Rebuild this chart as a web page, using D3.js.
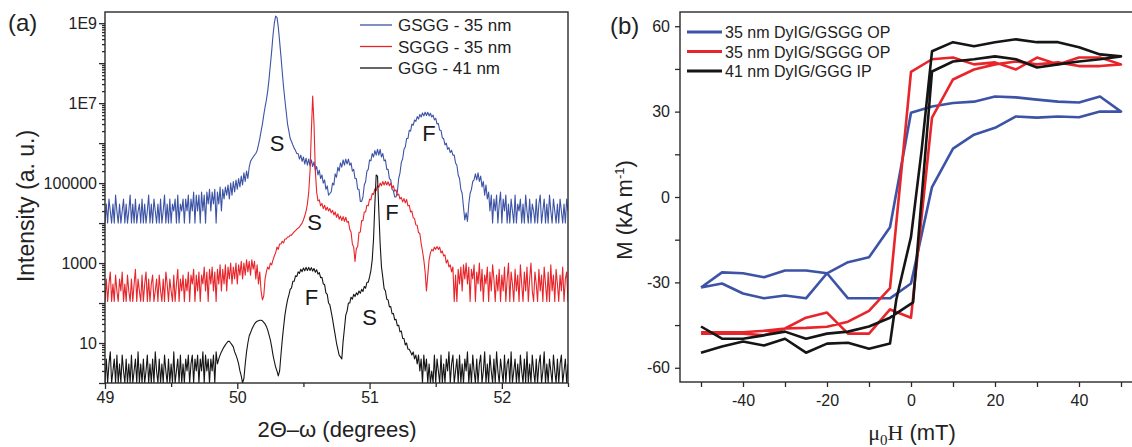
<!DOCTYPE html>
<html>
<head>
<meta charset="utf-8">
<script src="https://cdn.jsdelivr.net/npm/d3@7"></script>
<style>
  body { margin: 0; background: #fff; }
  svg { display: block; font-family: Arial, "Liberation Sans", sans-serif; }
</style>
</head>
<body>
<script>
// ---- (a) XRD 2theta-omega scans, 49.00 .. 52.50 deg, one value per 0.01 deg ----
const scanStart = 49, scanStep = 0.01;

const gsgg = [
  1e4,3e4,1e4,4e4,2e4,1e4,3e4,1e4,5e4,2e4,
  1e4,3e4,1e4,2e4,4e4,1e4,3e4,1e4,2e4,5e4,
  1e4,3e4,1e4,4e4,1e4,2e4,3e4,1e4,4e4,1e4,
  3e4,1e4,2e4,5e4,1e4,3e4,1e4,4e4,2e4,1e4,
  3e4,1e4,4e4,1e4,2e4,5e4,1e4,3e4,1e4,4e4,
  1e4,3e4,2e4,4e4,1e4,5e4,1e4,3e4,2e4,4e4,
  1e4,4e4,2e4,5e4,1e4,4e4,2e4,6e4,1e4,5e4,
  2e4,5e4,1e4,6e4,2e4,5e4,1e4,6e4,3e4,7e4,
  2e4,6e4,3e4,7e4,1e4,6e4,3e4,8e4,2e4,7e4,
  4e4,8e4,5e4,9e4,4e4,1e5,5e4,1.1e5,6e4,1.2e5,
  7e4,1.3e5,8e4,1.5e5,9e4,1.8e5,1.1e5,2e5,1.3e5,2.5e5,
  3.5e5,4e5,4.5e5,5e5,5.5e5,6.5e5,9e5,1.3e6,2e6,3e6,
  5e6,8e6,1.2e7,2e7,4e7,9e7,2e8,5e8,1e9,1.5e9,
  1.4e9,8e8,3.5e8,1.5e8,6e7,2.5e7,1.2e7,6e6,3e6,2e6,
  1.3e6,1.1e6,9e5,7.5e5,6.5e5,5.5e5,5.5e5,4e5,5e5,3.5e5,
  4.5e5,3e5,4.2e5,2.8e5,4e5,2.7e5,3.8e5,2.6e5,3.4e5,2.1e5,
  2.6e5,1.6e5,2.1e5,1.3e5,1.6e5,1e5,1.2e5,7e4,8.5e4,5e4,
  5.5e4,6e4,1e5,9e4,1.7e5,1.4e5,2.5e5,2e5,3.2e5,2.5e5,
  3.8e5,2.8e5,4e5,3e5,4e5,2.8e5,3.2e5,2e5,2.2e5,1.3e5,
  1.3e5,7e4,7e4,3.5e4,3.5e4,4.5e4,9e4,1.1e5,2e5,2.2e5,
  3.8e5,3.6e5,5.5e5,4.5e5,6.5e5,5e5,7e5,5e5,7e5,4.5e5,
  5.5e5,3.6e5,3.8e5,2.2e5,2.2e5,1.3e5,1.2e5,7e4,6.5e4,4.5e4,
  4.5e4,6e4,1.3e5,1.8e5,3.3e5,4e5,7e5,8e5,1.3e6,1.3e6,
  2.1e6,2e6,3e6,2.8e6,3.8e6,3.5e6,4.6e6,4e6,5.2e6,4.5e6,
  5.7e6,4.8e6,5.9e6,4.9e6,5.9e6,4.8e6,5.6e6,4.5e6,5e6,3.8e6,
  4.2e6,3e6,3.1e6,2.1e6,2.1e6,1.35e6,1.3e6,9e5,1e6,7e5,
  7.7e5,5.8e5,6.6e5,5e5,5e5,3.2e5,2.8e5,1.6e5,1.3e5,7e4,
  5.5e4,2.5e4,1.2e4,1.8e4,1.1e4,3e4,5.5e4,7e4,1.1e5,1.2e5,
  1.7e5,1.2e5,1.8e5,1.1e5,1.5e5,8e4,1.1e5,5e4,9e4,4e4,
  6e4,2e4,5e4,1e4,4e4,2e4,5e4,1e4,3e4,6e4,
  1e4,4e4,2e4,5e4,1e4,3e4,1e4,4e4,2e4,1e4,
  5e4,1e4,3e4,2e4,4e4,1e4,3e4,1e4,5e4,2e4,
  1e4,4e4,1e4,3e4,2e4,1e4,4e4,1e4,3e4,5e4,
  1e4,2e4,4e4,1e4,3e4,1e4,5e4,2e4,1e4,4e4,
  2e4,1e4,3e4,1e4,4e4,2e4,1e4,3e4,1e4,4e4,
  2e4
];

const sggg = [
  110,400,110,300,600,110,300,110,500,200,
  110,400,200,600,110,300,110,500,200,110,
  400,110,300,700,110,400,200,110,500,110,
  300,600,110,400,110,300,500,110,200,400,
  110,500,200,110,400,110,600,300,110,400,
  200,110,500,110,300,700,110,400,200,500,
  110,400,200,600,110,500,300,700,110,500,
  200,600,110,500,300,800,200,600,110,700,
  300,800,200,600,110,700,300,900,200,700,
  300,900,200,800,400,1000,300,800,400,1000,
  300,900,500,1100,400,1000,500,1200,600,1100,
  500,1200,700,1100,400,900,300,600,200,120,
  150,400,600,800,700,1000,900,1200,1500,1800,
  2500,2200,3000,3000,3500,3200,4000,4000,4500,4500,
  5000,5000,5500,6000,6500,7000,7500,8000,9000,1e4,
  1.2e4,1.5e4,2e4,3e4,6e4,2e5,2e6,1.5e7,3e6,2e5,
  6e4,3.6e4,3.8e4,2.7e4,3.1e4,2.3e4,2.8e4,2.1e4,2.5e4,2e4,
  2.3e4,1.8e4,2.1e4,1.6e4,1.9e4,1.4e4,1.7e4,1.25e4,1.5e4,1.15e4,
  1.45e4,1.1e4,1.4e4,1.05e4,1.1e4,7000,6000,3000,2500,1100,
  2300,2600,5800,6000,1.15e4,1.15e4,1.9e4,1.9e4,2.8e4,2.7e4,
  4e4,3.8e4,5.5e4,5.2e4,7.2e4,6.5e4,8.8e4,7.8e4,1e5,8.6e4,
  1.1e5,9e4,1.1e5,9e4,1.08e5,8.6e4,1e5,7.6e4,8.6e4,6.3e4,
  6.8e4,5e4,5.3e4,4e4,4.4e4,3.4e4,4.1e4,3.2e4,3.9e4,2.7e4,
  2.8e4,1.9e4,2e4,1.35e4,1.3e4,9000,8800,5800,5500,3100,
  2000,1200,600,200,500,1200,1800,2200,2000,2500,
  2200,2600,2200,2500,1800,2000,1500,1600,1000,1200,
  800,900,600,800,110,500,110,700,300,800,
  200,900,400,1000,300,800,110,700,400,900,
  110,600,300,1000,200,700,110,500,300,800,
  110,600,200,900,400,110,500,200,700,110,
  500,200,800,110,400,1000,110,600,300,110,
  700,200,500,110,900,300,110,600,200,800,
  110,400,1000,200,110,600,300,110,700,200,
  500,110,800,300,110,600,110,900,200,500,
  110,700,300,110,500,200,800,110,400,600,
  110
];

const ggg = [
  1,4,1,3,6,1,2,4,1,5,
  1,3,1,5,2,1,4,1,3,1,
  5,1,2,4,1,6,1,3,1,4,
  1,2,5,1,3,1,4,1,6,2,
  1,4,1,3,1,5,2,1,4,1,
  3,1,6,1,2,4,1,5,1,3,
  1,4,2,5,1,3,5,1,4,2,
  5,1,4,2,6,1,5,2,4,1,
  4,2,5,1,6,3,4,5,6,7,
  8,9,10,11,11,10,9,8,6,5,
  4,3,2,1.5,1,1.3,3,6,10,15,
  18,22,26,30,33,35,36,37,37,36,
  33,30,26,21,16,12,8,5,3.5,2.5,
  2,1.5,2,5,12,25,50,80,120,160,
  220,240,350,350,480,460,600,550,700,610,
  750,640,780,650,780,650,770,630,730,590,
  680,530,580,430,440,300,290,180,165,100,
  90,60,40,25,16,10,7,5,4.5,4,
  11,23,50,63,100,100,140,125,165,145,
  180,160,200,175,220,195,260,235,330,330,
  450,650,1200,4000,3e4,1.6e5,1.5e5,2e4,3000,800,
  440,230,200,125,120,80,82,54,55,38,
  39,27,28,19,20,13,13,9,10,7,
  7,6,5,6,4,5,3,5,2,4,
  1,5,2,4,1,3,1,2,1,5,
  1,4,2,1,5,1,3,1,4,2,
  6,1,3,5,1,2,4,1,5,1,
  3,1,4,2,6,1,3,1,5,2,
  1,4,1,3,5,1,2,6,1,3,
  1,5,2,1,4,1,6,2,1,4,
  2,1,5,1,3,4,1,6,1,2,
  4,1,3,1,5,2,1,4,1,6,
  1,3,1,5,2,1,4,1,3,5,
  1,2,6,1,3,1,4,2,1,5,
  2,1,4,1,3,5,1,2,4,1,
  3
];

const xrdNames = ["GSGG - 35 nm", "SGGG - 35 nm", "GGG - 41 nm"];
const twoThetaTicks = [49, 50, 51, 52];
const twoThetaMinor = [49.5, 50.5, 51.5, 52.5];
const intensityTicks = [10, 1e3, 1e5, 1e7, 1e9];
const intensityLabels = ["10", "1000", "100000", "1E7", "1E9"];

// peak labels: substrate (S) and film (F), placed in data coordinates
const peakNotes = [
  { t: "S", x: 50.30, y: 6.3e5 },
  { t: "F", x: 51.45, y: 1.1e6 },
  { t: "S", x: 50.585, y: 6.7e3 },
  { t: "F", x: 51.17, y: 1.2e4 },
  { t: "F", x: 50.56, y: 89 },
  { t: "S", x: 51.0, y: 28 }
];

// ---- (b) hysteresis loops, field (mT) and magnetisation (kA/m) ----
const gsggH = [-50,-45,-40,-35,-30,-25,-20,-15,-10,-5,0,5,10,15,20,25,30,35,40,45,50,
               45,40,35,30,25,20,15,10,5,0,-5,-10,-15,-20,-25,-30,-35,-40,-45,-50];
const gsggM = [-31.8,-30.4,-33.9,-35.6,-34.6,-35.6,-26.8,-22.9,-21.2,-10.6,29.6,31.8,33,33.5,35.3,35,34.2,33.5,33.2,35.3,30,
               30,28,28.3,27.9,28.3,24.3,21.9,17,3.5,-30.4,-35.6,-35.6,-35.6,-26.8,-25.8,-25.8,-28.2,-26.8,-26.5,-31.8];
const sgggH = [-50,-45,-40,-35,-30,-25,-20,-15,-10,-5,0,5,10,15,20,25,30,35,40,45,50,
               45,40,35,30,25,20,15,10,5,0,-5,-10,-15,-20,-25,-30,-35,-40,-45,-50];
const sgggM = [-47.5,-47.5,-47.5,-47,-46.2,-46,-45.6,-43.8,-40,-32,44,48.4,49,46.6,47.3,44.8,49,46.6,49,49,46.6,
               46,46,47.3,46.6,47.6,46.6,44.8,41.3,27.9,-42.4,-39.5,-48,-48,-40.6,-42.4,-46.2,-48.6,-48,-48,-48];
const gggH = [-50,-45,-40,-35,-30,-25,-20,-15,-10,-5,0.5,5,10,15,20,25,30,35,40,45,50,
              45,40,35,30,25,20,15,10,5,2.5,0,-3.5,-5,-10,-15,-20,-25,-30,-35,-40,-45,-50];
const gggM = [-45.5,-49.8,-49.8,-48.6,-47.3,-49.8,-48,-47.3,-45.5,-42.4,-37,44.1,47.6,48.4,49.4,48.4,45.5,46.6,47.6,48.4,49.4,
              50.1,52.6,54.4,54.4,55.4,54.4,53,54.4,51.2,16,-14,-36,-51.5,-53.3,-51.2,-51.5,-54.7,-49.8,-52.2,-50.8,-52.5,-54.7];

const loopNames = ["35 nm DyIG/GSGG OP", "35 nm DyIG/SGGG OP", "41 nm DyIG/GGG IP"];
const fieldTicks = [-40, -20, 0, 20, 40];
const fieldMinor = [-50, -30, -10, 10, 30, 50];
const momentTicks = [-60, -30, 0, 30, 60];
const momentMinor = [-45, -15, 15, 45];

const colors = ["#3c53a6", "#e8252a", "#151515"];
const axisColor = "#2a2a2a";

const svg = d3.select("body").append("svg")
    .attr("width", 1132)
    .attr("height", 447);

// ================= panel (a) =================
const aBox = { left: 105, right: 568, top: 12, bottom: 383 };
const xA = d3.scaleLinear().domain([49, 52.5]).range([aBox.left, aBox.right]);
const yA = d3.scaleLog().domain([1, Math.pow(10, 9.28)]).range([aBox.bottom, aBox.top]);

svg.append("clipPath").attr("id", "clipA")
  .append("rect")
    .attr("x", aBox.left).attr("y", aBox.top)
    .attr("width", aBox.right - aBox.left).attr("height", aBox.bottom - aBox.top);

const scanLine = d3.line()
    .x((d, i) => xA(scanStart + i * scanStep))
    .y(d => yA(d));

const scans = svg.append("g").attr("clip-path", "url(#clipA)");
[gsgg, sggg, ggg].forEach((s, k) => {
  scans.append("path")
      .datum(s)
      .attr("d", scanLine)
      .attr("fill", "none")
      .attr("stroke", colors[k])
      .attr("stroke-width", 1.1)
      .attr("stroke-linejoin", "round");
});

// x axis (a)
svg.append("g")
    .attr("transform", `translate(0,${aBox.bottom})`)
    .call(d3.axisBottom(xA).tickValues(twoThetaTicks).tickFormat(d => String(d)).tickSize(6).tickPadding(3));
svg.append("g")
    .attr("transform", `translate(0,${aBox.bottom})`)
    .call(d3.axisBottom(xA).tickValues(twoThetaMinor).tickFormat("").tickSize(4));

// y axis (a): every decade ticked, every other labelled, log minors
const decades = d3.range(0, 10).map(e => Math.pow(10, e));
const minorA = [];
decades.forEach(d => { for (let m = 2; m <= 9; m++) if (d * m < yA.domain()[1]) minorA.push(d * m); });
svg.append("g")
    .attr("transform", `translate(${aBox.left},0)`)
    .call(d3.axisLeft(yA).tickValues(decades)
      .tickFormat(d => { const k = intensityTicks.indexOf(d); return k < 0 ? "" : intensityLabels[k]; })
      .tickSize(6).tickPadding(2));
svg.append("g")
    .attr("transform", `translate(${aBox.left},0)`)
    .call(d3.axisLeft(yA).tickValues(minorA).tickFormat("").tickSize(3));

svg.append("rect")
    .attr("x", aBox.left).attr("y", aBox.top)
    .attr("width", aBox.right - aBox.left).attr("height", aBox.bottom - aBox.top)
    .attr("fill", "none").attr("stroke", axisColor).attr("stroke-width", 1.4);

// legend (a)
xrdNames.forEach((n, k) => {
  const ly = 25 + k * 21.5;
  svg.append("line").attr("x1", 360).attr("x2", 392).attr("y1", ly).attr("y2", ly)
      .attr("stroke", colors[k]).attr("stroke-width", 1.3);
  svg.append("text").attr("x", 398).attr("y", ly + 6).text(n)
      .attr("font-size", 17).attr("fill", "#222");
});

peakNotes.forEach(p => {
  svg.append("text")
      .attr("x", xA(p.x)).attr("y", yA(p.y))
      .attr("text-anchor", "middle")
      .attr("font-size", 22).attr("fill", "#1a1a1a")
      .text(p.t);
});

svg.append("text")
    .attr("transform", "translate(34,206) rotate(-90)")
    .attr("text-anchor", "middle")
    .attr("font-size", 23).attr("fill", "#222")
    .text("Intensity (a. u.)");

svg.append("text")
    .attr("x", 337).attr("y", 437)
    .attr("text-anchor", "middle")
    .attr("font-size", 22).attr("fill", "#222")
    .text("2\u0398\u2013\u03c9 (degrees)");

svg.append("text").attr("x", 8).attr("y", 31).attr("font-size", 24).attr("fill", "#222").text("(a)");

// ================= panel (b) =================
const bBox = { left: 680, right: 1142, top: 12, bottom: 382 };
const xB = d3.scaleLinear().domain([-55, 55]).range([bBox.left, bBox.right]);
const yB = d3.scaleLinear().domain([-65, 65]).range([bBox.bottom, bBox.top]);

const loopLine = d3.line().x(d => xB(d[0])).y(d => yB(d[1]));
[[gsggH, gsggM], [sgggH, sgggM], [gggH, gggM]].forEach(([h, m], k) => {
  svg.append("path")
      .datum(h.map((v, i) => [v, m[i]]))
      .attr("d", loopLine)
      .attr("fill", "none")
      .attr("stroke", colors[k])
      .attr("stroke-width", 2.6)
      .attr("stroke-linejoin", "round");
});

svg.append("g")
    .attr("transform", `translate(0,${bBox.bottom})`)
    .call(d3.axisBottom(xB).tickValues(fieldTicks).tickFormat(d => String(d)).tickSize(5).tickPadding(8));
svg.append("g")
    .attr("transform", `translate(0,${bBox.bottom})`)
    .call(d3.axisBottom(xB).tickValues(fieldMinor).tickFormat("").tickSize(5));
svg.append("g")
    .attr("transform", `translate(${bBox.left},0)`)
    .call(d3.axisLeft(yB).tickValues(momentTicks).tickFormat(d => String(d)).tickSize(5).tickPadding(5));
svg.append("g")
    .attr("transform", `translate(${bBox.left},0)`)
    .call(d3.axisLeft(yB).tickValues(momentMinor).tickFormat("").tickSize(5));

svg.append("rect")
    .attr("x", bBox.left).attr("y", bBox.top)
    .attr("width", bBox.right - bBox.left).attr("height", bBox.bottom - bBox.top)
    .attr("fill", "none").attr("stroke", axisColor).attr("stroke-width", 1.4);

loopNames.forEach((n, k) => {
  const ly = 32 + k * 19.5;
  svg.append("line").attr("x1", 687).attr("x2", 722).attr("y1", ly).attr("y2", ly)
      .attr("stroke", colors[k]).attr("stroke-width", 3);
  svg.append("text").attr("x", 725).attr("y", ly + 6).text(n)
      .attr("font-size", 16).attr("fill", "#222");
});

const yTitleB = svg.append("text")
    .attr("transform", "translate(632,210) rotate(-90)")
    .attr("text-anchor", "middle")
    .attr("font-size", 22).attr("fill", "#222");
yTitleB.append("tspan").text("M (kA m");
yTitleB.append("tspan").attr("font-size", 13).attr("dy", -8).text("-1");
yTitleB.append("tspan").attr("dy", 8).text(")");

const xTitleB = svg.append("text")
    .attr("x", 912).attr("y", 440)
    .attr("text-anchor", "middle")
    .attr("font-size", 22).attr("fill", "#222");
xTitleB.append("tspan").attr("font-family", "'Liberation Serif', 'DejaVu Serif', serif").text("\u03bc");
xTitleB.append("tspan").attr("font-family", "'Liberation Serif', serif").attr("font-size", 15).attr("dy", 5).text("0");
xTitleB.append("tspan").attr("font-family", "'Liberation Serif', serif").attr("dy", -5).text("H");
xTitleB.append("tspan").text(" (mT)");

svg.append("text").attr("x", 610).attr("y", 34).attr("font-size", 24).attr("fill", "#222").text("(b)");

// shared axis styling
svg.selectAll(".domain").remove();
svg.selectAll(".tick line").attr("stroke", axisColor).attr("stroke-width", 1.3);
svg.selectAll(".tick text").attr("font-size", 16).attr("fill", "#222")
    .attr("font-family", "Arial, 'Liberation Sans', sans-serif");
</script>
</body>
</html>
